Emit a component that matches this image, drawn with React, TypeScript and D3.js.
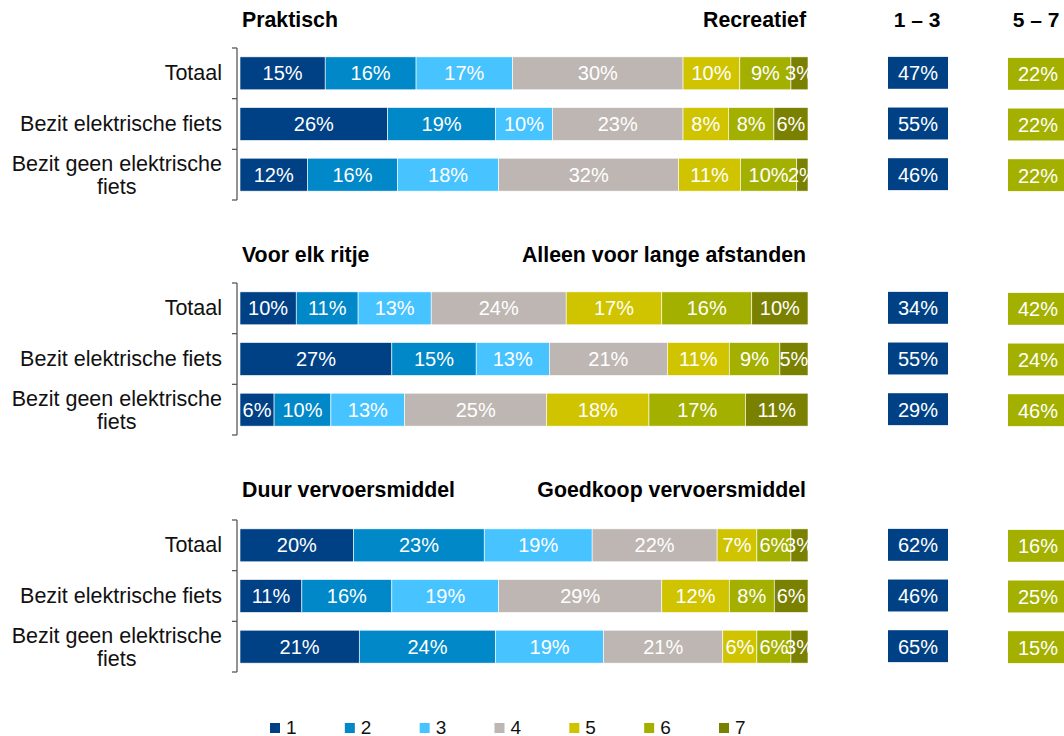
import React, { useEffect, useRef } from "react";
import * as d3 from "d3";

// chart data
const rows = ["Totaal", "Bezit elektrische fiets", "Bezit geen elektrische fiets"];
const scores = ["1", "2", "3", "4", "5", "6", "7"];
const colors = ["#004186", "#0088c8", "#47c3ff", "#beb6b2", "#d0c400", "#a3b000", "#7a8000"];

const leftHeaders = ["Praktisch", "Voor elk ritje", "Duur vervoersmiddel"];
const rightHeaders = ["Recreatief", "Alleen voor lange afstanden", "Goedkoop vervoersmiddel"];

const group1 = [
  [15, 16, 17, 30, 10, 9, 3],
  [26, 19, 10, 23, 8, 8, 6],
  [12, 16, 18, 32, 11, 10, 2],
];
const group2 = [
  [10, 11, 13, 24, 17, 16, 10],
  [27, 15, 13, 21, 11, 9, 5],
  [6, 10, 13, 25, 18, 17, 11],
];
const group3 = [
  [20, 23, 19, 22, 7, 6, 3],
  [11, 16, 19, 29, 12, 8, 6],
  [21, 24, 19, 21, 6, 6, 3],
];
const low13 = [[47, 55, 46], [34, 55, 29], [62, 46, 65]];
const high57 = [[22, 22, 22], [42, 24, 46], [16, 25, 15]];

const groups = [group1, group2, group3];

const App = () => {
  const ref = useRef<SVGSVGElement>(null);

  useEffect(() => {
    const svg = d3.select(ref.current);
    svg.selectAll("*").remove();

    const font = "Arial, 'Liberation Sans', sans-serif";
    const x = d3.scaleLinear().domain([0, 1]).range([240, 808]);
    const groupTops = [48, 283, 520];
    const headerY = [27, 262, 497];

    svg.append("defs").append("clipPath").attr("id", "barclip")
      .append("rect").attr("x", 240).attr("y", 0).attr("width", 568).attr("height", 736);

    // column headers
    svg.append("text").attr("x", 917).attr("y", headerY[0]).attr("text-anchor", "middle")
      .attr("font-family", font).attr("font-size", 21).attr("font-weight", "bold").text("1 – 3");
    svg.append("text").attr("x", 1036).attr("y", headerY[0]).attr("text-anchor", "middle")
      .attr("font-family", font).attr("font-size", 21).attr("font-weight", "bold").text("5 – 7");

    groups.forEach((data, gi) => {
      const top = groupTops[gi];
      const y = d3.scaleBand().domain(rows).range([top, top + 152]).paddingInner(0.35).paddingOuter(0.175);
      const g = svg.append("g");

      g.append("text").attr("x", 242).attr("y", headerY[gi]).attr("font-family", font)
        .attr("font-size", 21.3).attr("font-weight", "bold").text(leftHeaders[gi]);
      g.append("text").attr("x", 806).attr("y", headerY[gi]).attr("text-anchor", "end")
        .attr("font-family", font).attr("font-size", 21.3).attr("font-weight", "bold").text(rightHeaders[gi]);

      // bracket axis
      const axis = g.append("g").attr("stroke", "#595959").attr("stroke-width", 1.3);
      axis.append("line").attr("x1", 237).attr("x2", 237).attr("y1", top).attr("y2", top + 152);
      [0, 1, 2, 3].forEach((i) => {
        const ty = top + (152 / 3) * i;
        axis.append("line").attr("x1", 232).attr("x2", 237).attr("y1", ty).attr("y2", ty);
      });

      data.forEach((vals, ri) => {
        const total = d3.sum(vals);
        const cum = d3.cumsum(vals);
        const by = y(rows[ri])!;
        const bh = y.bandwidth();
        const row = g.append("g").attr("clip-path", "url(#barclip)");
        vals.forEach((v, i) => {
          const x0 = x((cum[i] - v) / total);
          const x1 = x(cum[i] / total);
          row.append("rect").attr("x", x0).attr("y", by).attr("width", x1 - x0).attr("height", bh)
            .attr("fill", colors[i]).attr("stroke", "#ffffff").attr("stroke-width", 0.6);
          row.append("text").attr("x", (x0 + x1) / 2).attr("y", by + bh / 2 + 7)
            .attr("text-anchor", "middle").attr("font-family", font).attr("font-size", 20)
            .attr("fill", "#ffffff").text(v + "%");
        });

        // category label
        const label = rows[ri];
        const lbl = g.append("text").attr("font-family", font).attr("font-size", 21.5).attr("fill", "#111");
        if (label === "Bezit geen elektrische fiets") {
          const l1 = lbl.append("tspan").attr("x", 222).attr("y", by + bh / 2 - 4).attr("text-anchor", "end")
            .text("Bezit geen elektrische");
          const w = (l1.node() as SVGTextContentElement).getComputedTextLength();
          lbl.append("tspan").attr("x", 222 - w / 2).attr("y", by + bh / 2 + 19).attr("text-anchor", "middle")
            .text("fiets");
        } else {
          lbl.attr("x", 222).attr("y", by + bh / 2 + 7).attr("text-anchor", "end").text(label);
        }

        // summary boxes
        g.append("rect").attr("x", 888).attr("y", by).attr("width", 60).attr("height", bh - 1).attr("fill", colors[0]);
        g.append("text").attr("x", 918).attr("y", by + bh / 2 + 7).attr("text-anchor", "middle")
          .attr("font-family", font).attr("font-size", 20).attr("fill", "#fff").text(low13[gi][ri] + "%");
        g.append("rect").attr("x", 1008).attr("y", by + 1).attr("width", 60).attr("height", bh - 1).attr("fill", colors[5]);
        g.append("text").attr("x", 1038).attr("y", by + bh / 2 + 8).attr("text-anchor", "middle")
          .attr("font-family", font).attr("font-size", 20).attr("fill", "#fff").text(high57[gi][ri] + "%");
      });
    });

    // legend
    const lx = d3.scalePoint().domain(scores).range([270, 719]);
    const leg = svg.append("g");
    scores.forEach((s, i) => {
      leg.append("rect").attr("x", lx(s)!).attr("y", 723).attr("width", 10).attr("height", 10).attr("fill", colors[i]);
      leg.append("text").attr("x", lx(s)! + 16).attr("y", 734).attr("font-family", font)
        .attr("font-size", 19).attr("fill", "#111").text(s);
    });
  }, []);

  return (
    <svg ref={ref} width={1064} height={736}
      style={{ position: "absolute", left: 0, top: 0, background: "#fff" }} />
  );
};

export default App;
